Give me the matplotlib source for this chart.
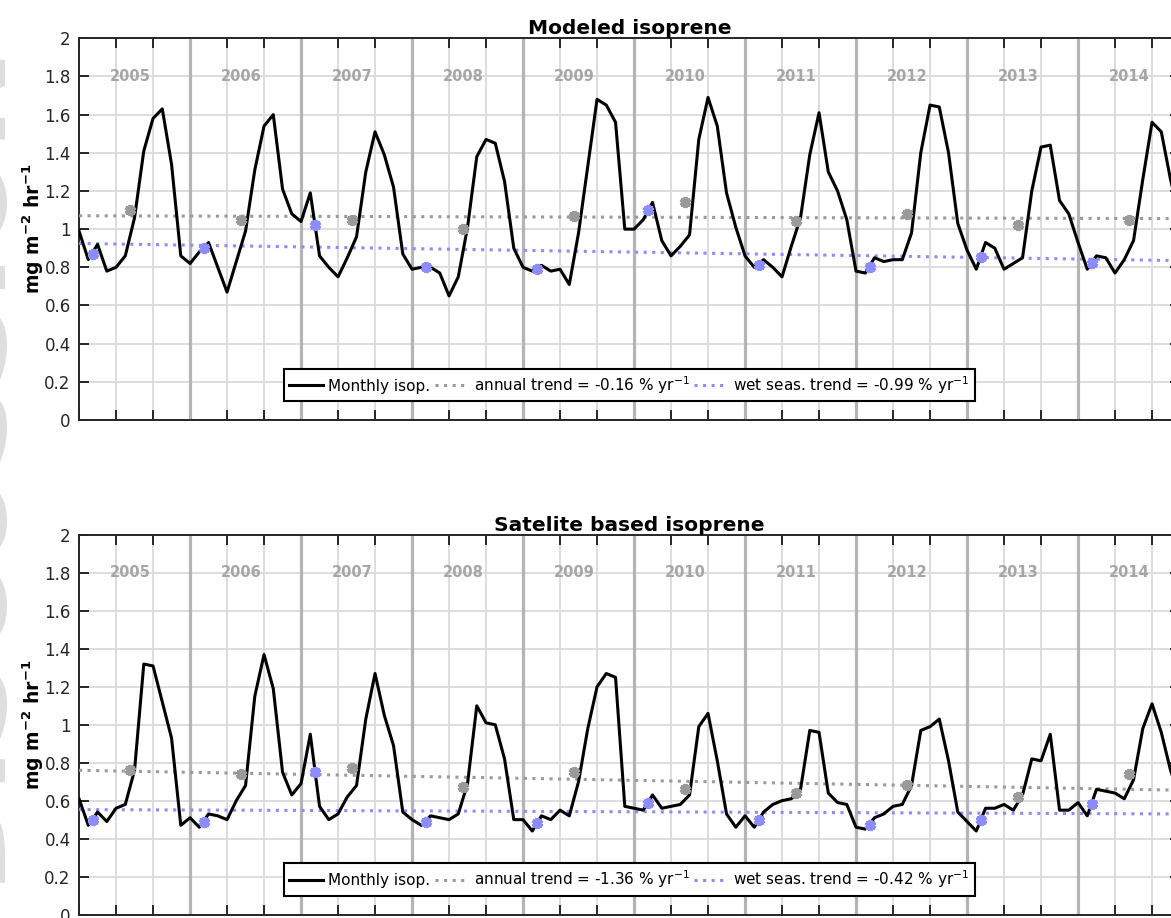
"""
Monthly isoprene, modeled vs satellite based, 2005-2014.
"""

import numpy as np
import matplotlib.pyplot as plt

plt.rcParams["font.family"] = ["DejaVu Sans"]

YEARS = [2005, 2006, 2007, 2008, 2009, 2010, 2011, 2012, 2013, 2014]

# monthly means, Jan 2005 .. Dec 2014
model_isop = [
    0.99, 0.84, 0.92, 0.78, 0.80, 0.86, 1.06, 1.41, 1.58, 1.63, 1.34, 0.86,
    0.82, 0.88, 0.93, 0.80, 0.67, 0.83, 0.99, 1.31, 1.54, 1.60, 1.21, 1.08,
    1.04, 1.19, 0.86, 0.80, 0.75, 0.85, 0.96, 1.30, 1.51, 1.39, 1.22, 0.87,
    0.79, 0.80, 0.80, 0.77, 0.65, 0.75, 1.01, 1.38, 1.47, 1.45, 1.25, 0.90,
    0.80, 0.78, 0.81, 0.78, 0.79, 0.71, 0.98, 1.33, 1.68, 1.65, 1.56, 1.00,
    1.00, 1.05, 1.14, 0.94, 0.86, 0.91, 0.97, 1.47, 1.69, 1.54, 1.19, 1.01,
    0.86, 0.80, 0.84, 0.80, 0.75, 0.91, 1.06, 1.39, 1.61, 1.30, 1.20, 1.05,
    0.78, 0.77, 0.85, 0.83, 0.84, 0.84, 0.98, 1.40, 1.65, 1.64, 1.40, 1.03,
    0.89, 0.79, 0.93, 0.90, 0.79, 0.82, 0.85, 1.20, 1.43, 1.44, 1.15, 1.08,
    0.93, 0.79, 0.86, 0.85, 0.77, 0.84, 0.94, 1.26, 1.56, 1.51, 1.26, 1.05,
]
sat_isop = [
    0.61, 0.47, 0.54, 0.49, 0.56, 0.58, 0.76, 1.32, 1.31, 1.12, 0.93, 0.47,
    0.51, 0.46, 0.53, 0.52, 0.50, 0.60, 0.68, 1.15, 1.37, 1.19, 0.75, 0.63,
    0.69, 0.95, 0.57, 0.50, 0.53, 0.62, 0.68, 1.03, 1.27, 1.05, 0.89, 0.54,
    0.50, 0.47, 0.52, 0.51, 0.50, 0.53, 0.69, 1.10, 1.01, 1.00, 0.82, 0.50,
    0.50, 0.44, 0.52, 0.50, 0.55, 0.52, 0.70, 0.98, 1.20, 1.27, 1.25, 0.57,
    0.56, 0.55, 0.63, 0.56, 0.57, 0.58, 0.63, 0.99, 1.06, 0.81, 0.53, 0.46,
    0.52, 0.46, 0.54, 0.58, 0.60, 0.61, 0.66, 0.97, 0.96, 0.64, 0.59, 0.58,
    0.46, 0.45, 0.51, 0.53, 0.57, 0.58, 0.68, 0.97, 0.99, 1.03, 0.81, 0.54,
    0.49, 0.44, 0.56, 0.56, 0.58, 0.55, 0.63, 0.82, 0.81, 0.95, 0.55, 0.55,
    0.59, 0.52, 0.66, 0.65, 0.64, 0.61, 0.71, 0.98, 1.11, 0.96, 0.76, 0.62,
]

# yearly annual / wet-season means
model_annual = [1.10, 1.05, 1.05, 1.00, 1.07, 1.14, 1.04, 1.08, 1.02, 1.05]
model_wet    = [0.87, 0.90, 1.02, 0.80, 0.79, 1.10, 0.81, 0.80, 0.855, 0.825]
sat_annual   = [0.76, 0.74, 0.77, 0.67, 0.75, 0.66, 0.64, 0.68, 0.62, 0.74]
sat_wet      = [0.50, 0.49, 0.75, 0.49, 0.48, 0.59, 0.50, 0.47, 0.50, 0.58]

# trend lines (start, end of record)
model_annual_trend = [1.07, 1.055]
model_wet_trend    = [0.925, 0.835]
sat_annual_trend   = [0.76, 0.655]
sat_wet_trend      = [0.553, 0.53]

model_labels = ["Monthly isop.",
                "annual trend = -0.16 % yr$^{-1}$",
                "wet seas. trend = -0.99 % yr$^{-1}$"]
sat_labels   = ["Monthly isop.",
                "annual trend = -1.36 % yr$^{-1}$",
                "wet seas. trend = -0.42 % yr$^{-1}$"]

GREY  = "#9a9a9a"
BLUE  = "#8c8cff"
AXCOL = "#262626"


def draw_panel(ax, monthly, annual, wet, ann_trend, wet_trend, labels, title):
    months = np.arange(len(monthly))
    n_yr   = len(YEARS)
    t_end  = months[-1]

    ax.set_xlim(0, t_end)
    ax.set_ylim(0, 2)

    # MATLAB style grid + year separators
    ax.set_xticks(np.arange(0, t_end + 1, 4))
    ax.set_yticks(np.arange(0, 2.01, 0.2))
    ax.grid(True, color="#dadada", linewidth=1.3)
    ax.set_axisbelow(True)
    for k in range(1, n_yr):
        ax.axvline(12 * k, color="#b4b4b4", linewidth=2.3, zorder=1)

    for k, yr in enumerate(YEARS):
        ax.text(12 * k + 5.5, 1.8, str(yr), ha="center", va="center",
                fontsize=10.5, fontweight="bold", color="#a6a6a6", zorder=2)

    h_mon, = ax.plot(months, monthly, color="black", linewidth=2.2, zorder=5)
    h_ann, = ax.plot([0, t_end], ann_trend, color=GREY, linewidth=2.2,
                     linestyle=(0, (1, 1.8)), zorder=4)
    h_wet, = ax.plot([0, t_end], wet_trend, color=BLUE, linewidth=2.2,
                     linestyle=(0, (1, 1.8)), zorder=4)

    ax.plot(np.arange(n_yr) * 12 + 5.5, annual, linestyle="none",
            marker=(6, 2, 0), markersize=8, markeredgewidth=2.8,
            color=GREY, zorder=6)
    ax.plot(np.arange(n_yr) * 12 + 1.5, wet, linestyle="none",
            marker=(6, 2, 0), markersize=8, markeredgewidth=2.8,
            color=BLUE, zorder=6)

    ax.tick_params(direction="in", length=7, width=1.4, top=True, right=True,
                   colors=AXCOL, labelsize=12, pad=6)
    ax.set_xticklabels([])
    ax.set_yticklabels(["0", "0.2", "0.4", "0.6", "0.8", "1",
                        "1.2", "1.4", "1.6", "1.8", "2"])
    for sp in ax.spines.values():
        sp.set_color(AXCOL)
        sp.set_linewidth(1.4)

    ax.set_ylabel(r"mg m$^{\mathbf{-2}}$ hr$^{\mathbf{-1}}$", fontsize=13.5,
                  fontweight="bold", labelpad=-1)
    ax.set_title(title, fontsize=14.5, fontweight="bold", pad=3)

    leg = ax.legend([h_mon, h_ann, h_wet], labels, loc="lower center",
                    bbox_to_anchor=(0.5, 0.05), ncol=3, fontsize=11,
                    handlelength=2.2, handletextpad=0.35, columnspacing=0.3,
                    borderpad=0.35, borderaxespad=0.0, fancybox=False,
                    framealpha=1.0, edgecolor="black")
    leg.get_frame().set_linewidth(1.5)
    leg.set_zorder(10)


fig = plt.figure(figsize=(11.71, 9.18), dpi=100)

# faded watermark lettering, only a sliver shows on the left margin
fig.text(-0.083, 0.5, "DISCUSSION", rotation=90, fontsize=88,
         fontweight="bold", color="#dedede", ha="left", va="center")

# axes run past the right edge of the page, as in the original
ax1 = fig.add_axes([0.0675, 0.5425, 0.940, 0.4158])
ax2 = fig.add_axes([0.0675, 0.0038, 0.940, 0.4134])

draw_panel(ax1, model_isop, model_annual, model_wet,
           model_annual_trend, model_wet_trend, model_labels, "Modeled isoprene")
draw_panel(ax2, sat_isop, sat_annual, sat_wet,
           sat_annual_trend, sat_wet_trend, sat_labels, "Satelite based isoprene")

fig.savefig("out.png", dpi=100)
plt.close(fig)
